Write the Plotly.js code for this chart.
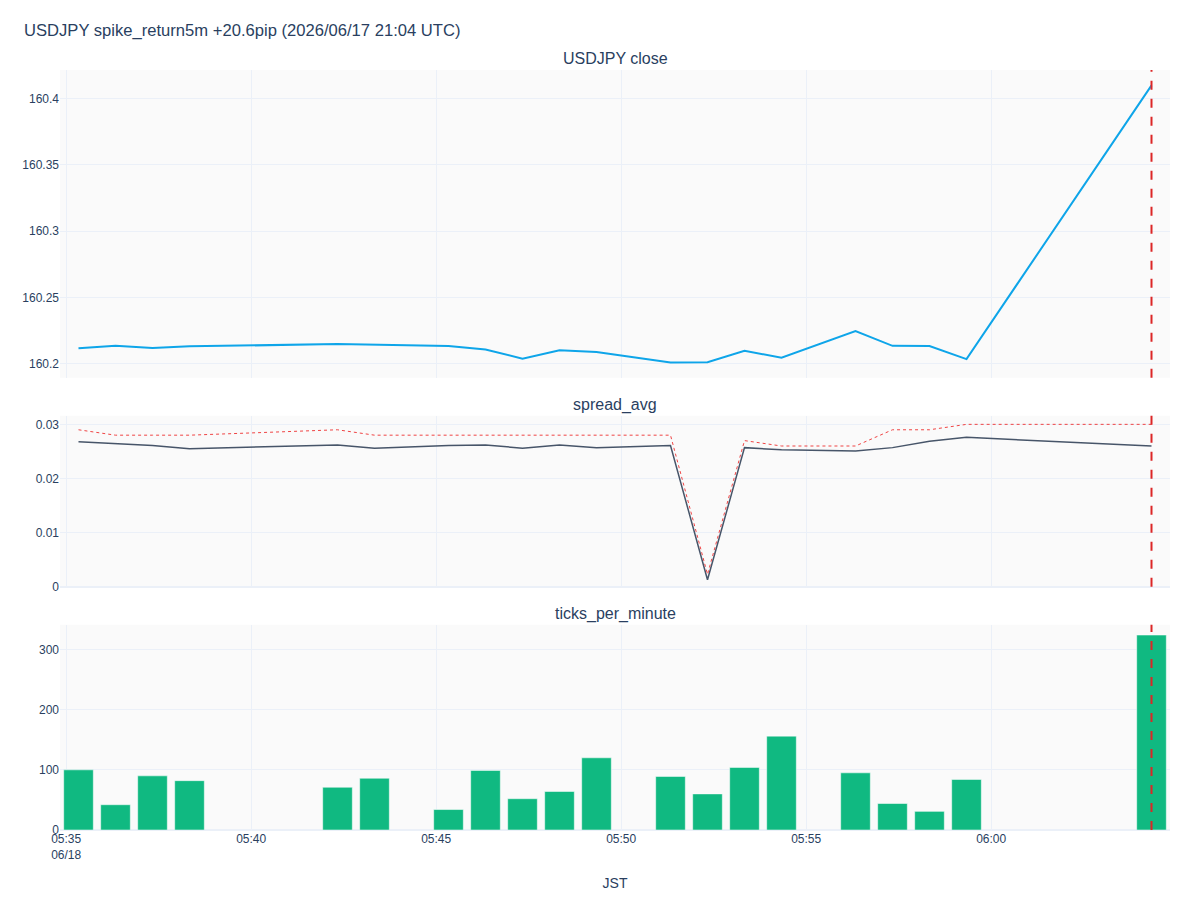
<!DOCTYPE html>
<html>
<head>
<meta charset="utf-8">
<script src="https://cdn.plot.ly/plotly-3.0.1.min.js"></script>
<style>html,body{margin:0;padding:0;background:#fff;}#chart{width:1200px;height:900px;}</style>
</head>
<body>
<div id="chart"></div>
<script>
// ---- data (JST timestamps) ----
const times = [
  "2026-06-18 05:35:20","2026-06-18 05:36:20","2026-06-18 05:37:20","2026-06-18 05:38:20",
  "2026-06-18 05:42:20","2026-06-18 05:43:20","2026-06-18 05:45:20","2026-06-18 05:46:20",
  "2026-06-18 05:47:20","2026-06-18 05:48:20","2026-06-18 05:49:20","2026-06-18 05:51:20",
  "2026-06-18 05:52:20","2026-06-18 05:53:20","2026-06-18 05:54:20","2026-06-18 05:56:20",
  "2026-06-18 05:57:20","2026-06-18 05:58:20","2026-06-18 05:59:20","2026-06-18 06:04:20"
];
const closePrice = [
  160.2116,160.2135,160.2118,160.2131,
  160.2148,160.2143,160.2133,160.2108,
  160.2038,160.2101,160.2088,160.2010,
  160.2012,160.2098,160.2045,160.2246,
  160.2135,160.2133,160.2035,160.4098
];
const spreadAvg = [
  0.0268,0.0264,0.0261,0.0255,
  0.0262,0.0256,0.0261,0.0262,
  0.0256,0.0262,0.0257,0.0261,
  0.0013,0.0257,0.0253,0.0251,
  0.0257,0.0269,0.0276,0.0260
];
const spreadMax = [
  0.029,0.028,0.028,0.028,
  0.029,0.028,0.028,0.028,
  0.028,0.028,0.028,0.028,
  0.0023,0.027,0.026,0.026,
  0.029,0.029,0.030,0.030
];
const ticksPerMinute = [
  100,42,90,82,
  71,86,34,99,
  52,64,120,89,
  60,104,156,95,
  44,31,84,324
];
const spikeTime = "2026-06-18 06:04:20";
const chartTitle = "USDJPY spike_return5m +20.6pip (2026/06/17 21:04 UTC)";
const subplotTitles = ["USDJPY close","spread_avg","ticks_per_minute"];

// ---- styling ----
const FONT = '"Liberation Sans", Arial, sans-serif';
const TXT = '#2a3f5f';
const GRID = '#EBF0F8';

const traces = [
  {x: times, y: closePrice, type: 'scatter', mode: 'lines', name: 'close',
   line: {color: '#0ea5e9', width: 2}, xaxis: 'x', yaxis: 'y'},
  {x: times, y: spreadAvg, type: 'scatter', mode: 'lines', name: 'spread_avg',
   line: {color: '#475569', width: 1.5}, xaxis: 'x2', yaxis: 'y2'},
  {x: times, y: spreadMax, type: 'scatter', mode: 'lines', name: 'spread_max',
   line: {color: '#ef4444', width: 1, dash: 'dot'}, xaxis: 'x2', yaxis: 'y2'},
  {x: times, y: ticksPerMinute, type: 'bar', name: 'ticks_per_minute',
   marker: {color: '#10b981', line: {color: 'white', width: 0.5}}, xaxis: 'x3', yaxis: 'y3'}
];

const axBase = {gridcolor: GRID, zerolinecolor: GRID, zerolinewidth: 2, linecolor: GRID,
  ticks: '', showline: false, tickfont: {size: 12, color: TXT}};

const domains = [[0.595, 1.0], [0.32, 0.545], [0.0, 0.27]];
const layout = {
  width: 1200, height: 900,
  margin: {l: 60, r: 30, t: 70, b: 70},
  paper_bgcolor: 'white', plot_bgcolor: '#fafafa',
  font: {family: FONT, color: TXT, size: 12},
  showlegend: false,
  bargap: 0.2,
  title: {text: chartTitle, x: 0.02, xanchor: 'left', y: 0.967, yanchor: 'middle',
          font: {size: 16.6, color: TXT, family: FONT}},
  xaxis: Object.assign({}, axBase, {type: 'date', matches: 'x3', showticklabels: false, anchor: 'y'}),
  xaxis2: Object.assign({}, axBase, {type: 'date', matches: 'x3', showticklabels: false, anchor: 'y2'}),
  xaxis3: Object.assign({}, axBase, {type: 'date', anchor: 'y3', tickformat: '%H:%M\n%m/%d',
          title: {text: 'JST', standoff: 17, font: {size: 14, color: TXT}}}),
  yaxis: Object.assign({}, axBase, {domain: domains[0], anchor: 'x'}),
  yaxis2: Object.assign({}, axBase, {domain: domains[1], anchor: 'x2', rangemode: 'tozero'}),
  yaxis3: Object.assign({}, axBase, {domain: domains[2], anchor: 'x3'}),
  annotations: subplotTitles.map((t, i) => ({
    text: t, x: 0.5, xref: 'paper', xanchor: 'center',
    y: domains[i][1], yref: 'paper', yanchor: 'bottom', showarrow: false,
    yshift: i === 0 ? 1 : 0,
    font: {size: 16, color: TXT}
  })),
  shapes: ['', '2', '3'].map(s => ({
    type: 'line', xref: 'x' + s, yref: 'y' + s + ' domain',
    x0: spikeTime, x1: spikeTime, y0: 0, y1: 1,
    line: {color: '#dc2626', width: 2, dash: 'dash'}
  }))
};

Plotly.newPlot('chart', traces, layout, {displayModeBar: false, staticPlot: true});
</script>
</body>
</html>
